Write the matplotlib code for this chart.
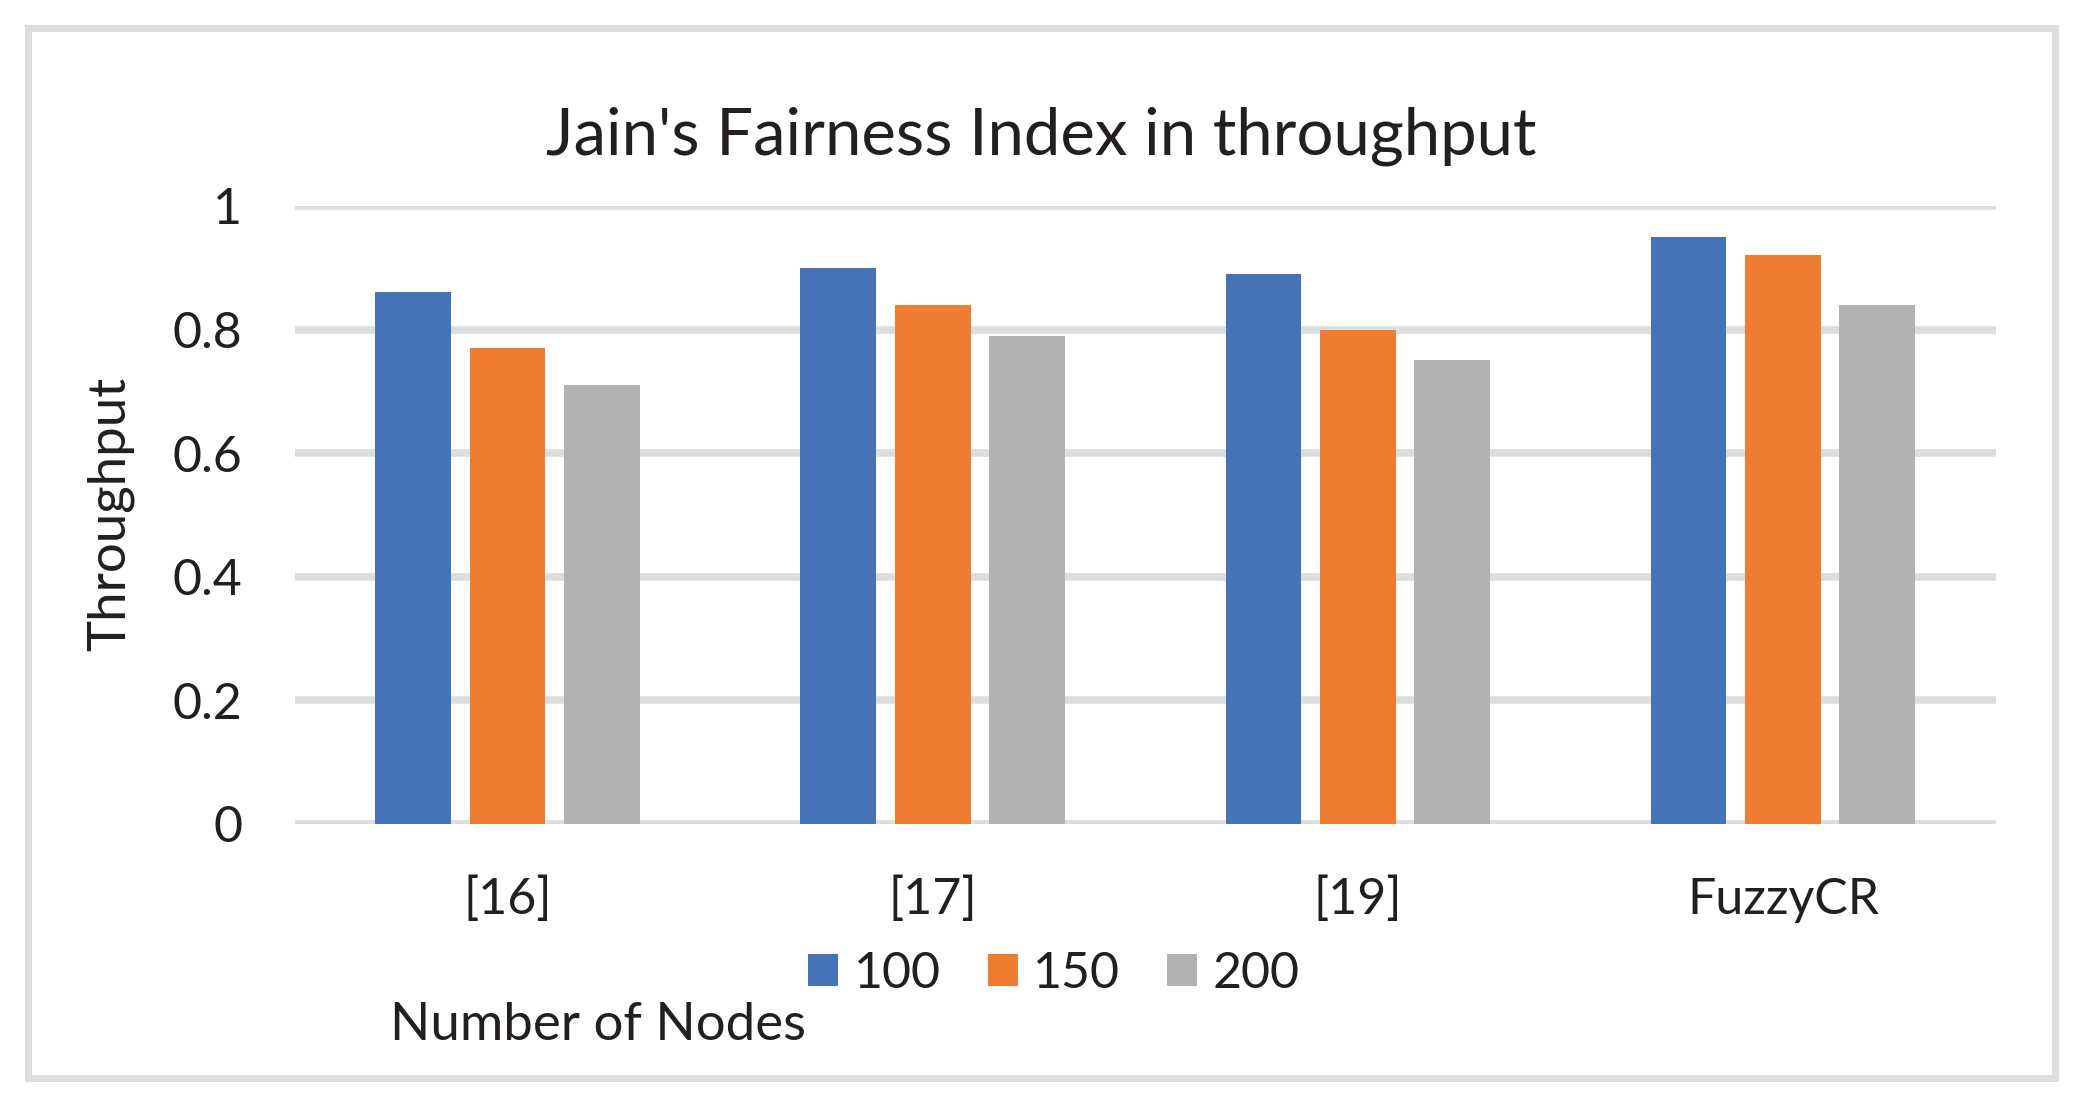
import matplotlib
matplotlib.use("Agg")
import matplotlib.pyplot as plt
import numpy as np
from matplotlib.patches import Rectangle

# dati
categories = ["[16]", "[17]", "[19]", "FuzzyCR"]
series_names = ["100", "150", "200"]
vals_100 = [0.86, 0.90, 0.89, 0.95]
vals_150 = [0.77, 0.84, 0.80, 0.92]
vals_200 = [0.71, 0.79, 0.75, 0.84]
yticks = [0, 0.2, 0.4, 0.6, 0.8, 1]
ytick_labels = ["0", "0.2", "0.4", "0.6", "0.8", "1"]

colors = ["#4672B7", "#EE7D31", "#B1B2B4"]
grid_col = "#DCDDDF"
text_col = "#231F20"

plt.rcParams['font.family'] = ['Lato', 'DejaVu Sans']

fig = plt.figure(figsize=(20.83, 11.05), dpi=100)
fig.patch.set_facecolor("white")

# bordo esterno del grafico
fig.patches.append(Rectangle((0.0135, 0.024), 0.973, 0.951, transform=fig.transFigure,
                             fill=False, edgecolor=grid_col, linewidth=5))

ax = fig.add_axes([0.1416, 0.2543, 0.8164, 0.5593])
x = np.arange(len(categories))
w = 0.178
step = 0.222
for i, vals in enumerate([vals_100, vals_150, vals_200]):
    ax.bar(x + (i - 1) * step, vals, width=w, color=colors[i],
           label=series_names[i], zorder=3)

ax.set_xlim(-0.5, len(categories) - 0.5)
ax.set_ylim(0, 1)
ax.set_yticks(yticks)
ax.set_yticklabels(ytick_labels)
ax.set_xticks(x)
ax.set_xticklabels(categories)
ax.tick_params(axis='both', length=0, labelsize=36, colors=text_col)
ax.tick_params(axis='y', pad=38)
ax.tick_params(axis='x', pad=38)
for s in ax.spines.values():
    s.set_visible(False)
ax.yaxis.grid(True, color=grid_col, linewidth=5.5, zorder=0)
ax.set_axisbelow(True)

fig.text(0.5, 0.877, "Jain's Fairness Index in throughput", ha='center', va='center',
         fontsize=47, color=text_col)
fig.text(0.053, 0.535, "Throughput", rotation=90, ha='center', va='center',
         fontsize=38, color=text_col)
fig.text(0.187, 0.072, "Number of Nodes", ha='left', va='center',
         fontsize=38, color=text_col)

fig.legend(loc='center', bbox_to_anchor=(0.506, 0.119), ncol=3, frameon=False,
           fontsize=36, handlelength=0.6, handleheight=0.6, handletextpad=0.3,
           columnspacing=0.95, labelcolor=text_col)

fig.savefig("out.png", dpi=100, facecolor="white")
